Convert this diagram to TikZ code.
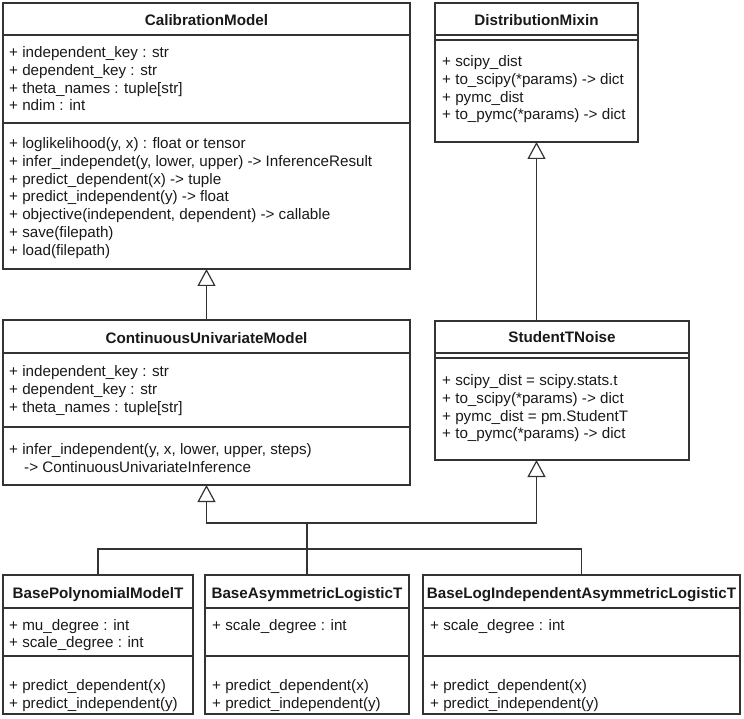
\documentclass[tikz,border=0pt]{standalone}
\usepackage{fontspec}
\setmainfont{Liberation Sans}
\usetikzlibrary{arrows.meta}
\tikzset{
  classbox/.style  = {shape=rectangle, draw=black!80, line width=1.2pt,
                      inner sep=0pt, outer sep=0pt},
  classname/.style = {anchor=base, inner sep=0pt, text=black!90,
                      font=\fontsize{15.2}{18}\selectfont\bfseries},
  member/.style    = {anchor=base west, inner sep=0pt, text=black!90,
                      font=\fontsize{15.2}{18}\selectfont},
  divider/.style   = {draw=black!80, line width=1.2pt},
  link/.style      = {draw=black!80, line width=1.2pt},
  generalize/.style = {link, -{Triangle[open, length=17pt, width=18pt]}}
}
\newcommand{\members}[4]{%
  \foreach \txt [count=\k from 0] in {#4}
    \node[member] (#1\k) at (#2, #3+17.8*\k) {\txt};
}

\begin{document}
\begin{tikzpicture}[x=1pt, y=-1pt]
  \useasboundingbox (0,0) rectangle (744,719);

  \node[classbox, minimum width=407pt, minimum height=266pt] (cm)  at (206.5,136)   {};
  \node[classbox, minimum width=203pt, minimum height=139pt] (dm)  at (536.5,72.5)  {};
  \node[classbox, minimum width=407pt, minimum height=165pt] (cum) at (206.5,402.5) {};
  \node[classbox, minimum width=254pt, minimum height=139pt] (stn) at (562,390.5)   {};
  \node[classbox, minimum width=190pt, minimum height=139pt] (bpm) at (98,644.5)    {};
  \node[classbox, minimum width=204pt, minimum height=139pt] (bal) at (307,644.5)   {};
  \node[classbox, minimum width=317pt, minimum height=139pt] (bli) at (581.5,644.5) {};

  \draw[divider] (cm.west |- 0,35)   -- (cm.east |- 0,35);
  \draw[divider] (cm.west |- 0,123)  -- (cm.east |- 0,123);
  \draw[divider] (dm.west |- 0,35)   -- (dm.east |- 0,35);
  \draw[divider] (dm.west |- 0,40)   -- (dm.east |- 0,40);
  \draw[divider] (cum.west |- 0,353) -- (cum.east |- 0,353);
  \draw[divider] (cum.west |- 0,427) -- (cum.east |- 0,427);
  \draw[divider] (stn.west |- 0,353) -- (stn.east |- 0,353);
  \draw[divider] (stn.west |- 0,358) -- (stn.east |- 0,358);
  \foreach \c in {bpm,bal,bli} {
    \draw[divider] (\c.west |- 0,608) -- (\c.east |- 0,608);
    \draw[divider] (\c.west |- 0,656) -- (\c.east |- 0,656);
  }

  \node[classname] (cm-name)  at (cm.north |- 0,25.5)   {CalibrationModel};
  \node[classname] (dm-name)  at (dm.north |- 0,25.5)   {DistributionMixin};
  \node[classname] (cum-name) at (cum.north |- 0,343.5) {ContinuousUnivariateModel};
  \node[classname] (stn-name) at (stn.north |- 0,342.5) {StudentTNoise};
  \node[classname] (bpm-name) at (bpm.north |- 0,598.5) {BasePolynomialModelT};
  \node[classname] (bal-name) at (bal.north |- 0,598.5) {BaseAsymmetricLogisticT};
  \node[classname] (bli-name) at (bli.north |- 0,598.5) {BaseLogIndependentAsymmetricLogisticT};

  \members{cm-a}{9}{57.5}{+ independent\_key : str, + dependent\_key : str,
    + theta\_names : tuple[str], + ndim : int}
  \members{cm-m}{9}{148.5}{{+ loglikelihood(y, x) : float or tensor},
    {+ infer\_independet(y, lower, upper) -> InferenceResult},
    {+ predict\_dependent(x) -> tuple}, {+ predict\_independent(y) -> float},
    {+ objective(independent, dependent) -> callable},
    {+ save(filepath)}, {+ load(filepath)}}
  \members{dm-a}{442}{66.5}{+ scipy\_dist, + to\_scipy(*params) -> dict,
    + pymc\_dist, + to\_pymc(*params) -> dict}
  \members{cum-a}{9}{376.5}{+ independent\_key : str, + dependent\_key : str,
    + theta\_names : tuple[str]}
  \node[member] (cum-m0) at (9,454.5)  {+ infer\_independent(y, x, lower, upper, steps)};
  \node[member] (cum-m1) at (24,472.5) {-> ContinuousUnivariateInference};
  \members{stn-a}{442}{385.5}{+ scipy\_dist = scipy.stats.t, + to\_scipy(*params) -> dict,
    + pymc\_dist = pm.StudentT, + to\_pymc(*params) -> dict}
  \members{bpm-a}{9}{630}{+ mu\_degree : int, + scale\_degree : int}
  \members{bpm-m}{9}{690.5}{+ predict\_dependent(x), + predict\_independent(y)}
  \members{bal-a}{212}{630}{+ scale\_degree : int}
  \members{bal-m}{212}{690.5}{+ predict\_dependent(x), + predict\_independent(y)}
  \members{bli-a}{430}{630}{+ scale\_degree : int}
  \members{bli-m}{430}{690.5}{+ predict\_dependent(x), + predict\_independent(y)}

  \coordinate (upbus)  at (0,523);
  \coordinate (lowbus) at (0,549);
  \draw[generalize] (cum.north) -- (cm.south);
  \draw[generalize] (stn.north -| dm.south) -- (dm.south);
  \draw[generalize] (bal.north) -- (bal.north |- upbus) -| (cum.south);
  \draw[generalize] (bal.north |- upbus) -| (stn.south -| dm.south);
  \draw[link] (bpm.north) |- (lowbus -| bli.north) -- (bli.north);
\end{tikzpicture}
\end{document}
